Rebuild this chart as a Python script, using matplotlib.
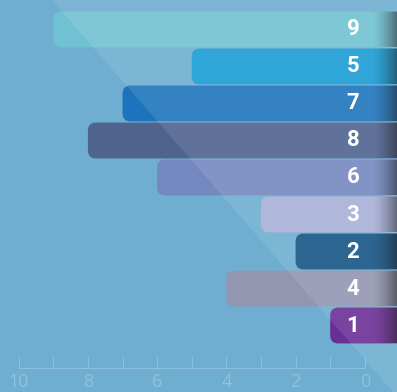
import numpy as np
import matplotlib
matplotlib.use("Agg")
import matplotlib.pyplot as plt
from matplotlib.patches import FancyBboxPatch, Polygon

# ---- data (top to bottom) ----
labels = ["9", "5", "7", "8", "6", "3", "2", "4", "1"]
values = [9, 5, 7, 8, 6, 3, 2, 4, 1]
colors = ["#70c2d2", "#189bd4", "#1e74bc", "#4f638f", "#7488c0",
          "#a7b0d8", "#165485", "#9296b0", "#6a2f96"]
major_ticks = [0, 2, 4, 6, 8, 10]
minor_ticks = [1, 3, 5, 7, 9]

BG = "#6faed0"
AXC = "#8cc0dc"

fig = plt.figure(figsize=(3.97, 3.92), dpi=100)
fig.patch.set_facecolor(BG)
ax = fig.add_axes([0, 0, 1, 1])
ax.set_facecolor(BG)

XL = (10.54, -0.93)
YL = (9.797, -0.797)

h = 0.97
px_x = 34.6  # px per x unit
px_y = 37.0  # px per y unit
r = 8.0 / px_x
asp = px_x / px_y

x_shadow0 = (364.7 - 372) / px_x
x_end = -1.5

grad = np.zeros((1, 64, 4))
t = np.linspace(0, 1, 64)
grad[0, :, 3] = 0.5 * t ** 1.5

for i, (lab, v, c) in enumerate(zip(labels, values, colors)):
    p = FancyBboxPatch((x_end, i - h / 2), v - x_end, h,
                       boxstyle=f"round,pad=0,rounding_size={r}",
                       mutation_aspect=asp, facecolor=c, edgecolor="none",
                       zorder=2)
    ax.add_patch(p)
    im = ax.imshow(grad, extent=(x_shadow0, XL[1], i + h / 2, i - h / 2),
                   aspect="auto", zorder=3, interpolation="bilinear")
    im.set_clip_path(p)

# diagonal light overlay
tri = Polygon([(52 / 397, 1.0), (1.0, 1.0), (1.0, 0.0), (393 / 397, 0.0)],
              closed=True, transform=ax.transAxes, facecolor="white",
              alpha=0.1, edgecolor="none", zorder=4)
ax.add_patch(tri)

for i, (lab, v) in enumerate(zip(labels, values)):
    ax.text(0.34, i, lab, ha="center", va="center", color="white",
            fontsize=16, fontweight="bold",
            family=["Roboto", "DejaVu Sans"], zorder=5)

ax.set_xlim(*XL)
ax.set_ylim(*YL)

for s in ["top", "left", "right"]:
    ax.spines[s].set_visible(False)
ax.spines["bottom"].set_position(("data", 9.157))
ax.spines["bottom"].set_bounds(0, 10)
ax.spines["bottom"].set_color(AXC)
ax.spines["bottom"].set_linewidth(0.8)
ax.spines["bottom"].set_zorder(6)
ax.set_xticks(major_ticks)
ax.set_xticks(minor_ticks, minor=True)
ax.set_xticklabels([str(m) for m in major_ticks],
                   family=["Open Sans", "DejaVu Sans"])
ax.tick_params(axis="x", which="both", direction="in", length=8.5,
               width=0.8, color=AXC, labelcolor="#90c2dd", labelsize=13,
               pad=3.5, labelbottom=True)
ax.xaxis.set_zorder(6)
ax.set_yticks([])

fig.savefig("out.png", dpi=100, facecolor=BG)
